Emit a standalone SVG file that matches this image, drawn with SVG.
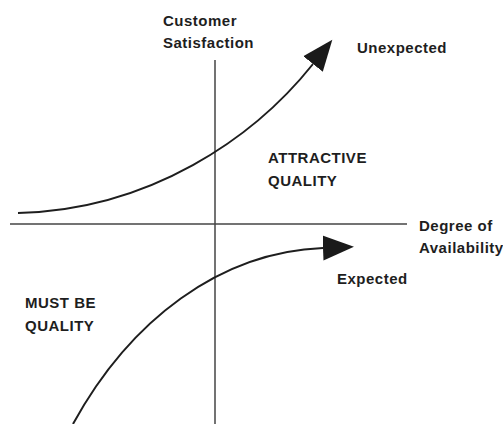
<svg xmlns="http://www.w3.org/2000/svg" width="503" height="424" viewBox="0 0 503 424">
  <style>
    .label { font-family: "Liberation Sans", Arial, sans-serif; font-weight: bold; font-size: 15px; letter-spacing: 0.5px; fill: #1e1e1e; }
    .axis { stroke: #444; stroke-width: 1.5; fill: none; }
    .curve { stroke: #1e1e1e; stroke-width: 2; fill: none; marker-end: url(#head); }
  </style>
  <defs>
    <marker id="head" markerUnits="userSpaceOnUse" markerWidth="33" markerHeight="27" viewBox="0 -13.5 33 27" refX="0" refY="0" orient="auto">
      <path d="M0,-12.5 L31,0 L0,12.5 Z" fill="#1a1a1a"/>
    </marker>
  </defs>
  <rect width="503" height="424" fill="#fff"/>

  <g id="connectors">
    <!-- axes -->
    <line class="axis" x1="215" y1="60" x2="215" y2="424"/>
    <line class="axis" x1="10" y1="224" x2="407" y2="224"/>
    <!-- attractive quality: exponential rise -->
    <path class="curve" d="M18,213 C150,210 254,138 313,64"/>
    <!-- must-be quality: saturating rise -->
    <path class="curve" d="M73,424 C130,320 220,252 323,248"/>
  </g>

  <g id="y-axis-label">
    <text class="label" x="163" y="26">Customer</text>
    <text class="label" x="163" y="48">Satisfaction</text>
  </g>
  <g id="x-axis-label">
    <text class="label" x="419" y="231">Degree of</text>
    <text class="label" x="419" y="253">Availability</text>
  </g>
  <g id="unexpected">
    <text class="label" x="357" y="53">Unexpected</text>
  </g>
  <g id="expected">
    <text class="label" x="337" y="284">Expected</text>
  </g>
  <g id="attractive-quality">
    <text class="label" x="268" y="163">ATTRACTIVE</text>
    <text class="label" x="268" y="186">QUALITY</text>
  </g>
  <g id="must-be-quality">
    <text class="label" x="25" y="308">MUST BE</text>
    <text class="label" x="25" y="331">QUALITY</text>
  </g>
</svg>
